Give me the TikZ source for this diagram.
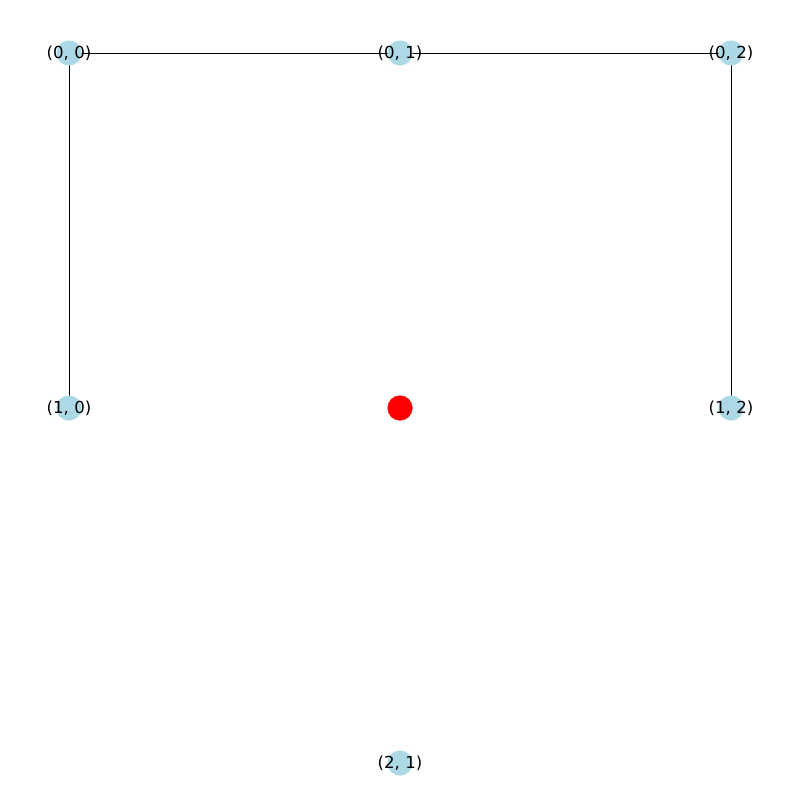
\documentclass[tikz,border=0pt]{standalone}
\usepackage{fontspec}
\setmainfont{DejaVu Sans}
\usetikzlibrary{backgrounds}
\begin{document}
\begin{tikzpicture}[thick, every label/.style={font=\fontsize{11.8}{14}\selectfont, inner sep=0pt},
    vtx/.style={circle, fill={rgb,255:red,173;green,216;blue,230}, minimum size=6.3mm, inner sep=0pt},
    hole/.style={circle, fill=red, minimum size=6.3mm, inner sep=0pt}]
    \useasboundingbox (0,0) rectangle (20,-20);
    % --- grid nodes ---
    \node[vtx, label=center:{(0, 0)}] (n00) at (1.725,-1.325) {};
    \node[vtx, label=center:{(0, 1)}] (n01) at (10,-1.325) {};
    \node[vtx, label=center:{(0, 2)}] (n02) at (18.275,-1.325) {};
    \node[vtx, label=center:{(1, 0)}] (n10) at (1.725,-10.2) {};
    \node[hole] (n11) at (10,-10.2) {};
    \node[vtx, label=center:{(1, 2)}] (n12) at (18.275,-10.2) {};
    \node[vtx, label=center:{(2, 1)}] (n21) at (10,-19.075) {};

    % edges under the nodes
    \begin{pgfonlayer}{background}
        \draw[line width=0.7pt] (n00.center) -- (n01.center);
        \draw[line width=0.7pt] (n01.center) -- (n02.center);
        \draw[line width=0.7pt] (n00.center) -- (n10.center);
        \draw[line width=0.7pt] (n02.center) -- (n12.center);
    \end{pgfonlayer}
\end{tikzpicture}
\end{document}
